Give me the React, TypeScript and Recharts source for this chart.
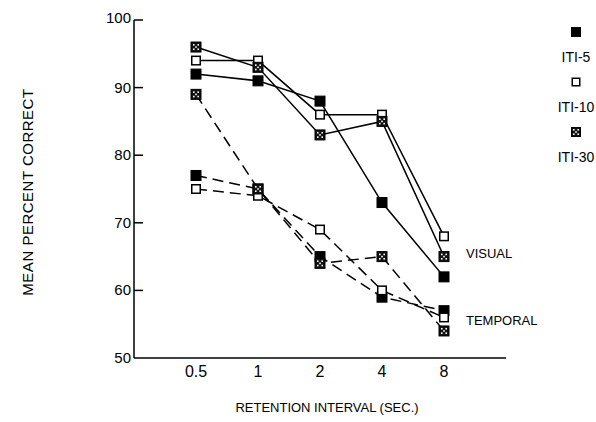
import React from 'react';
import { LineChart, Line, XAxis, YAxis, ReferenceDot } from 'recharts';

const categories = ['0.5', '1', '2', '4', '8'];
const visualITI5 = [92, 91, 88, 73, 62];
const visualITI10 = [94, 94, 86, 86, 68];
const visualITI30 = [96, 93, 83, 85, 65];
const temporalITI5 = [77, 75, 65, 59, 57];
const temporalITI10 = [75, 74, 69, 60, 56];
const temporalITI30 = [89, 75, 64, 65, 54];
const yTicks = [50, 60, 70, 80, 90, 100];
const legendNames = ['ITI-5', 'ITI-10', 'ITI-30'];
const legendKinds = ['filled', 'open', 'hatch'];
const groupLabels = [
  { text: 'VISUAL', value: 65.5 },
  { text: 'TEMPORAL', value: 55.5 },
];

const data = categories.map((c, i) => ({
  x: i,
  v5: visualITI5[i],
  v10: visualITI10[i],
  v30: visualITI30[i],
  t5: temporalITI5[i],
  t10: temporalITI10[i],
  t30: temporalITI30[i],
}));

const FONT = '"Liberation Sans", Arial, sans-serif';

function Marker({ kind, cx, cy, s = 10 }: { kind: string; cx: number; cy: number; s?: number }) {
  const h = s / 2;
  if (kind === 'filled') {
    return <rect x={cx - h} y={cy - h} width={s} height={s} fill="#000" stroke="#000" strokeWidth={1} />;
  }
  if (kind === 'open') {
    return <rect x={cx - h + 0.75} y={cy - h + 0.75} width={s - 1.5} height={s - 1.5} fill="#fff" stroke="#000" strokeWidth={1.5} />;
  }
  return (
    <g>
      <rect x={cx - h} y={cy - h} width={s} height={s} fill="#111" stroke="#000" strokeWidth={1} />
      <rect x={cx - 3} y={cy - 3} width={1.6} height={1.6} fill="#fff" />
      <rect x={cx + 1.4} y={cy - 3} width={1.6} height={1.6} fill="#fff" />
      <rect x={cx - 0.8} y={cy - 0.8} width={1.6} height={1.6} fill="#fff" />
      <rect x={cx - 3} y={cy + 1.4} width={1.6} height={1.6} fill="#fff" />
      <rect x={cx + 1.4} y={cy + 1.4} width={1.6} height={1.6} fill="#fff" />
    </g>
  );
}

const dotFor = (kind: string) => (p: any) => (
  <Marker key={`${kind}-${p.index}`} kind={kind} cx={p.cx} cy={p.cy} />
);

const YTick = (p: any) => {
  const { x, y, payload } = p;
  return (
    <g>
      {payload.value !== 50 && <line x1={x} x2={x + 9} y1={y} y2={y} stroke="#000" strokeWidth={1.5} />}
      <text x={x - 3} y={y - (payload.value === 100 ? 2 : 0)} dy={5} textAnchor="end" fontSize={15} fontFamily={FONT} fill="#000">
        {payload.value}
      </text>
    </g>
  );
};

const YLabel = (p: any) => {
  const vb = p.viewBox || { x: 0, y: 20, width: 134, height: 338 };
  const x = vb.x + 33;
  const y = vb.y + vb.height / 2 + 3;
  return (
    <text x={x} y={y} transform={`rotate(-90, ${x}, ${y})`} textAnchor="middle" fontSize={15} fontFamily={FONT} fill="#000" letterSpacing={0.5}>
      MEAN PERCENT CORRECT
    </text>
  );
};

const XLabel = (p: any) => {
  const vb = p.viewBox || { x: 134, y: 358, width: 372, height: 64 };
  const x = vb.x + vb.width / 2 + 7;
  const y = vb.y + 54;
  return (
    <text x={x} y={y} textAnchor="middle" fontSize={13} fontFamily={FONT} fill="#000">
      RETENTION INTERVAL (SEC.)
    </text>
  );
};

export default function App() {
  return (
    <div style={{ position: 'absolute', left: 0, top: 0, width: 596, height: 422, background: '#fff' }}>
      <LineChart width={596} height={422} data={data} margin={{ top: 20, right: 90, bottom: 0, left: 0 }}>
        <XAxis
          dataKey="x"
          type="number"
          domain={[-1, 5]}
          ticks={[0, 1, 2, 3, 4]}
          tickFormatter={(i: number) => categories[i]}
          tickLine={false}
          tickSize={0}
          tickMargin={8}
          height={64}
          axisLine={{ stroke: '#000', strokeWidth: 1.5 }}
          tick={{ fontSize: 16, fontFamily: FONT, fill: '#000' }}
          label={{ content: XLabel }}
        />
        <YAxis
          type="number"
          domain={[50, 100]}
          ticks={yTicks}
          width={134}
          tickLine={false}
          tickSize={0}
          tickMargin={0}
          axisLine={{ stroke: '#000', strokeWidth: 1.5 }}
          tick={YTick}
          label={{ content: YLabel }}
        />
        <Line dataKey="t5" stroke="#000" strokeWidth={1.5} strokeDasharray="11 6" dot={dotFor('filled')} isAnimationActive={false} />
        <Line dataKey="t10" stroke="#000" strokeWidth={1.5} strokeDasharray="11 6" dot={dotFor('open')} isAnimationActive={false} />
        <Line dataKey="t30" stroke="#000" strokeWidth={1.5} strokeDasharray="11 6" dot={dotFor('hatch')} isAnimationActive={false} />
        <Line dataKey="v5" stroke="#000" strokeWidth={1.5} dot={dotFor('filled')} isAnimationActive={false} />
        <Line dataKey="v10" stroke="#000" strokeWidth={1.5} dot={dotFor('open')} isAnimationActive={false} />
        <Line dataKey="v30" stroke="#000" strokeWidth={1.5} dot={dotFor('hatch')} isAnimationActive={false} />
        {groupLabels.map((g) => (
          <ReferenceDot
            key={g.text}
            x={4}
            y={g.value}
            r={0}
            fill="none"
            stroke="none"
            label={{ value: g.text, position: 'right', offset: 22, fontSize: 13, fontFamily: FONT, fill: '#000' }}
          />
        ))}
      </LineChart>
      <div style={{ position: 'absolute', left: 553, top: 26, width: 46, textAlign: 'center', fontFamily: FONT, fontSize: 14, color: '#000' }}>
        {legendNames.map((n, i) => (
          <div key={n} style={{ height: 50 }}>
            <svg width={12} height={12} style={{ display: 'block', margin: '0 auto' }}>
              <Marker kind={legendKinds[i]} cx={6} cy={6} s={9} />
            </svg>
            <div style={{ marginTop: 10, lineHeight: '18px' }}>{n}</div>
          </div>
        ))}
      </div>
    </div>
  );
}
